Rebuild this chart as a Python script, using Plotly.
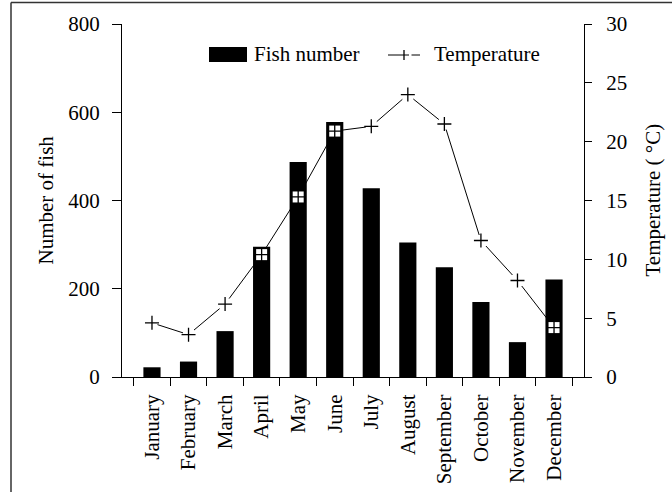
import plotly.graph_objects as go

# Monthly fish counts and water temperature
months = ["January", "February", "March", "April", "May", "June",
          "July", "August", "September", "October", "November", "December"]
fish_number = [22, 35, 104, 295, 487, 578, 428, 305, 249, 170, 79, 221]
temperature = [4.6, 3.6, 6.2, 10.4, 15.3, 20.9, 21.3, 24.0, 21.5, 11.6, 8.2, 4.2]

FONT = "Liberation Serif, Times New Roman, serif"
FS = 21

fig = go.Figure()

fig.add_trace(go.Bar(
    x=months, y=fish_number, name="Fish number",
    marker=dict(color="black", line=dict(width=0)),
    showlegend=False,
))

# temperature line
fig.add_trace(go.Scatter(
    x=months, y=temperature, yaxis="y2", mode="lines",
    line=dict(color="black", width=1), showlegend=False, hoverinfo="skip",
))
# white square behind each plus marker
fig.add_trace(go.Scatter(
    x=months, y=temperature, yaxis="y2", mode="markers",
    marker=dict(symbol="square", size=11, color="white", line=dict(width=0)),
    showlegend=False, hoverinfo="skip",
))
fig.add_trace(go.Scatter(
    x=months, y=temperature, yaxis="y2", mode="markers", name="Temperature",
    marker=dict(symbol="cross-thin", size=10, color="black",
                line=dict(color="black", width=1.3)),
    showlegend=False,
))

W, H = 672, 492
L, R, T, B = 122, 88, 24, 115
pw, ph = W - L - R, H - T - B


def px(x):
    return (x - L) / pw


def py(y):
    return (H - B - y) / ph


shapes = [
    # outer frame (top and left edges)
    dict(type="line", xref="paper", yref="paper", x0=px(11), x1=px(700),
         y0=py(2.5), y1=py(2.5), line=dict(color="#333333", width=1.5)),
    dict(type="line", xref="paper", yref="paper", x0=px(11), x1=px(11),
         y0=py(2.5), y1=py(520), line=dict(color="#333333", width=1.5)),
    # legend: bar swatch
    dict(type="rect", xref="paper", yref="paper", x0=px(209), x1=px(247),
         y0=py(47), y1=py(62), fillcolor="black", line=dict(width=0)),
    # legend: line with plus marker
    dict(type="line", xref="paper", yref="paper", x0=px(388), x1=px(409),
         y0=py(55), y1=py(55), line=dict(color="black", width=1)),
    dict(type="line", xref="paper", yref="paper", x0=px(411.5), x1=px(420),
         y0=py(55), y1=py(55), line=dict(color="black", width=1)),
    dict(type="line", xref="paper", yref="paper", x0=px(404), x1=px(404),
         y0=py(50), y1=py(60), line=dict(color="black", width=1.3)),
]

text_font = dict(family=FONT, size=FS, color="black")
annotations = [
    dict(text="Fish number", xref="paper", yref="paper", x=px(252), y=py(54),
         xanchor="left", yanchor="middle", showarrow=False, font=text_font),
    dict(text="Temperature", xref="paper", yref="paper", x=px(432), y=py(54),
         xanchor="left", yanchor="middle", showarrow=False, font=text_font),
    # axis titles
    dict(text="Number of fish", xref="paper", yref="paper", x=px(45), y=0.5,
         xanchor="center", yanchor="middle", textangle=-90, showarrow=False,
         font=text_font),
    dict(text="Temperature ( \u00b0C)", xref="paper", yref="paper", x=px(652),
         y=0.5, xanchor="center", yanchor="middle", textangle=-90,
         showarrow=False, font=text_font),
]

axis_common = dict(
    showgrid=False, zeroline=False, showline=True, linecolor="black",
    linewidth=1, ticks="outside", tickcolor="black", tickwidth=1,
    tickfont=text_font,
)

fig.update_layout(
    width=W, height=H,
    margin=dict(l=L, r=R, t=T, b=B, autoexpand=False),
    paper_bgcolor="white", plot_bgcolor="white",
    font=text_font,
    bargap=0.53,
    xaxis=dict(**axis_common, type="category", tickson="boundaries",
               ticklen=8, tickangle=-90, ticklabelstandoff=8),
    yaxis=dict(**axis_common, range=[0, 800], dtick=200, ticklen=9,
               ticklabelstandoff=8),
    yaxis2=dict(**axis_common, range=[0, 30], dtick=5, ticklen=7,
                overlaying="y", side="right", ticklabelstandoff=10),
    shapes=shapes,
    annotations=annotations,
    showlegend=False,
)

fig.write_html("out.html")
